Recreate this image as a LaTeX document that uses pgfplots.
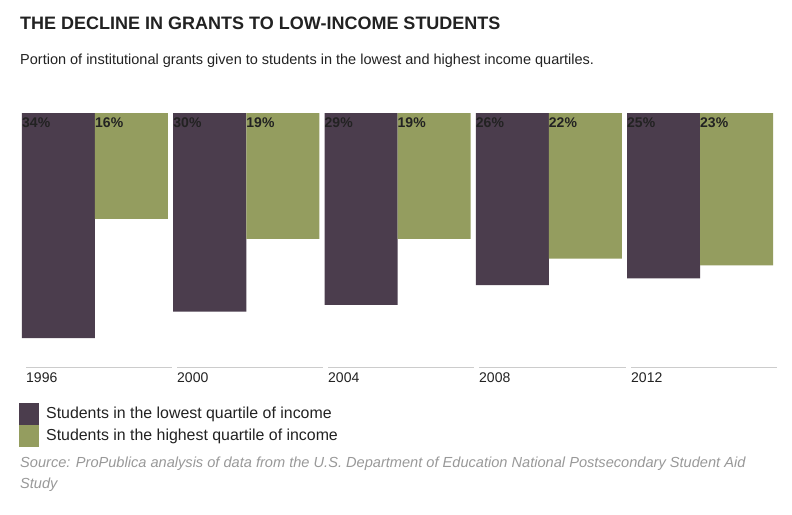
\documentclass[border=0pt]{standalone}
\usepackage{pgfplots}
\pgfplotsset{compat=1.18}
\usepackage{pgfplotstable}
\usepackage{fontspec}
\setmainfont{Liberation Sans}
\definecolor{darkp}{HTML}{4B3D4D}
\definecolor{greenb}{HTML}{949D5F}
\definecolor{txt}{HTML}{222222}
\definecolor{src}{HTML}{999999}
\definecolor{rulec}{HTML}{CCCCCC}

\pgfplotstableread{
x low high
0 34 16
1 30 19
2 29 19
3 26 22
4 25 23
}\data

\begin{document}
\begin{tikzpicture}[x=1pt,y=1pt]
\path[use as bounding box, fill=white] (0,0) rectangle (792,-514);
\node[anchor=base west, inner sep=0, font=\fontsize{18}{21}\selectfont\bfseries, text=txt] at (20,-29) {THE DECLINE IN GRANTS TO LOW-INCOME STUDENTS};
\node[anchor=base west, inner sep=0, font=\fontsize{14.5}{17}\selectfont, text=txt] at (20,-64) {Portion of institutional grants given to students in the lowest and highest income quartiles.};

\begin{axis}[at={(22pt,-113pt)}, anchor=north west, scale only axis,
  width=751pt, height=254pt,
  xmin=-0.4826, xmax=4.4826, ymin=0, ymax=38.37, y dir=reverse,
  hide axis, clip=false, ybar, bar width=73pt,
  /pgf/number format/assume math mode=true]
\addplot[fill=darkp, draw=none, bar shift=-36.5pt] table[x=x,y=low]{\data};
\addplot[fill=greenb, draw=none, bar shift=36.5pt] table[x=x,y=high]{\data};
\addplot[draw=none, fill=none, bar shift=-36.5pt, point meta=explicit,
  nodes near coords={\pgfmathprintnumber{\pgfplotspointmeta}\%},
  every node near coord/.append style={anchor=base west, inner sep=0pt, xshift=-36.5pt, yshift=-14pt, font=\fontsize{14}{17}\selectfont\bfseries, text=txt}]
  table[x=x, y expr=0, meta=low]{\data};
\addplot[draw=none, fill=none, bar shift=36.5pt, point meta=explicit,
  nodes near coords={\pgfmathprintnumber{\pgfplotspointmeta}\%},
  every node near coord/.append style={anchor=base west, inner sep=0pt, xshift=-36.5pt, yshift=-14pt, font=\fontsize{14}{17}\selectfont\bfseries, text=txt}]
  table[x=x, y expr=0, meta=high]{\data};
\end{axis}

\foreach \s/\e/\yr in {26/172/1996, 177/323/2000, 328/474/2004, 479/626/2008, 631/777/2012} {
  \draw[rulec, line width=1pt] (\s,-367) -- (\e,-367);
  \node[anchor=base west, inner sep=0, font=\fontsize{14}{17}\selectfont, text=txt] at (\s,-382) {\yr};
}

\fill[darkp] (19,-403) rectangle (39,-425);
\fill[greenb] (19,-425) rectangle (39,-447);
\node[anchor=base west, inner sep=0, font=\fontsize{15.9}{18}\selectfont, text=txt] at (46,-418) {Students in the lowest quartile of income};
\node[anchor=base west, inner sep=0, font=\fontsize{15.9}{18}\selectfont, text=txt] at (46,-440) {Students in the highest quartile of income};
\node[anchor=base west, inner sep=0, font=\fontsize{14.6}{17}\selectfont\itshape, text=src] at (20,-467) {Source: ProPublica analysis of data from the U.S. Department of Education National Postsecondary Student Aid};
\node[anchor=base west, inner sep=0, font=\fontsize{14.6}{17}\selectfont\itshape, text=src] at (20,-488) {Study};
\end{tikzpicture}
\end{document}
